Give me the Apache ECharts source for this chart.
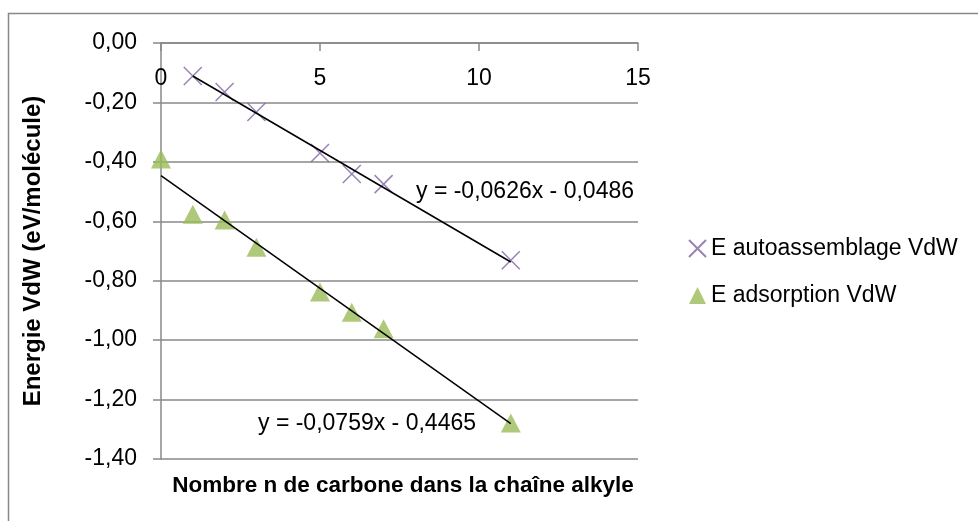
<!DOCTYPE html>
<html>
<head>
<meta charset="utf-8">
<script src="https://cdn.jsdelivr.net/npm/echarts@6/dist/echarts.min.js"></script>
<style>
html, body { margin: 0; padding: 0; background: #fff; }
#chart { width: 978px; height: 521px; }
</style>
</head>
<body>
<div id="chart"></div>
<script>
// carbon count n
var nAuto = [1, 2, 3, 5, 6, 7, 11];
var eAuto = [-0.111, -0.165, -0.232, -0.370, -0.441, -0.475, -0.731];
var nAds = [0, 1, 2, 3, 5, 6, 7, 11];
var eAds = [-0.39, -0.576, -0.596, -0.687, -0.838, -0.906, -0.962, -1.279];
// trendline end points
var trendAuto = [[1, -0.111], [11, -0.737]];
var trendAds = [[0, -0.4465], [11, -1.281]];
var eqAuto = 'y = -0,0626x - 0,0486';
var eqAds = 'y = -0,0759x - 0,4465';
var xTicks = [0, 5, 10, 15];
var yTicks = [0, -0.2, -0.4, -0.6, -0.8, -1.0, -1.2, -1.4];

var FONT = '"Liberation Sans", Arial, sans-serif';
var crossPath = 'path://M0,0L10,10M10,0L0,10';

function pairs(xs, ys) {
    return xs.map(function (x, i) { return [x, ys[i]]; });
}

var chart = echarts.init(document.getElementById('chart'));
chart.setOption({
    backgroundColor: '#fff',
    animation: false,
    textStyle: { fontFamily: FONT },
    grid: { left: 161, right: 340, top: 43, bottom: 62 },
    legend: {
        left: 683,
        top: 232,
        orient: 'vertical',
        itemWidth: 17,
        itemHeight: 17,
        itemGap: 24,
        textStyle: { fontSize: 23, color: '#000', fontFamily: FONT },
        data: ['E autoassemblage VdW', 'E adsorption VdW']
    },
    xAxis: {
        type: 'value',
        position: 'top',
        min: 0, max: 15, interval: 5,
        axisLine: { show: true, onZero: false, lineStyle: { color: '#888', width: 1.5 } },
        axisTick: { show: true, inside: true, length: 8, lineStyle: { color: '#888', width: 1.5 } },
        axisLabel: { inside: true, margin: 24, fontSize: 23, color: '#000', fontFamily: FONT,
            formatter: function (v) { return xTicks.indexOf(v) >= 0 ? String(v) : ''; } },
        splitLine: { show: false }
    },
    yAxis: {
        type: 'value',
        min: -1.4, max: 0, interval: 0.2,
        axisLine: { show: true, lineStyle: { color: '#888', width: 1.5 } },
        axisTick: { show: true, length: 8, lineStyle: { color: '#888', width: 1.5 } },
        axisLabel: { margin: 24, fontSize: 23, color: '#000', fontFamily: FONT,
            formatter: function (v) { return v.toFixed(2).replace('.', ','); } },
        splitLine: { show: true, lineStyle: { color: '#888', width: 1.5 } }
    },
    series: [
        {
            name: 'trendAuto', type: 'line', data: trendAuto, symbol: 'none', silent: true,
            lineStyle: { color: '#000', width: 1.5 }, z: 3
        },
        {
            name: 'trendAds', type: 'line', data: trendAds, symbol: 'none', silent: true,
            lineStyle: { color: '#000', width: 1.5 }, z: 3
        },
        {
            name: 'E autoassemblage VdW', type: 'scatter', data: pairs(nAuto, eAuto),
            symbol: crossPath, symbolSize: 18,
            itemStyle: { color: 'rgba(0,0,0,0)', borderColor: '#8064a2', borderWidth: 1.5 },
            z: 2
        },
        {
            name: 'E adsorption VdW', type: 'scatter', data: pairs(nAds, eAds),
            symbol: 'triangle', symbolSize: [20, 19],
            itemStyle: { color: '#9bbb59' },
            z: 2
        }
    ],
    graphic: [
        { type: 'rect', silent: true, shape: { x: 8.5, y: 13.5, width: 1100, height: 700 },
          style: { fill: 'none', stroke: '#888', lineWidth: 1.5 } },
        { type: 'text', x: 416, y: 192,
          style: { text: eqAuto, font: '23px ' + FONT, fill: '#000', verticalAlign: 'middle' } },
        { type: 'text', x: 258, y: 424,
          style: { text: eqAds, font: '23px ' + FONT, fill: '#000', verticalAlign: 'middle' } },
        { type: 'text', x: 403, y: 486,
          style: { text: 'Nombre n de carbone dans la chaîne alkyle', font: 'bold 22.5px ' + FONT,
                   fill: '#000', align: 'center', verticalAlign: 'middle' } },
        { type: 'text', x: 33, y: 251, rotation: Math.PI / 2,
          style: { text: 'Energie VdW (eV/molécule)', font: 'bold 24px ' + FONT,
                   fill: '#000', align: 'center', verticalAlign: 'middle' } }
    ]
});
</script>
</body>
</html>
